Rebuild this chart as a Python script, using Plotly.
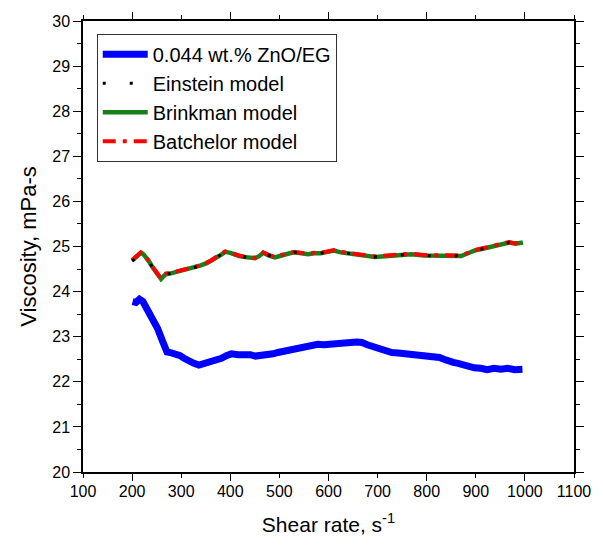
import plotly.graph_objects as go

# ---- data ----
shear_blue = [201, 208, 215, 222, 230, 241, 252, 261, 271, 280, 289, 298, 306, 316, 326, 336, 346,
              356, 369, 382, 392, 402, 416, 431, 441, 451, 464, 477, 487, 497, 510, 523, 537,
              552, 565, 578, 591, 604, 618, 632, 645, 658, 668, 679, 689, 699, 709, 719, 729,
              742, 755, 769, 783, 797, 810, 818, 826, 835, 844, 854, 864, 874, 884, 897, 910,
              923, 937, 951, 965, 980, 995]
visc_blue = [23.78, 23.76, 23.83, 23.78, 23.62, 23.42, 23.18, 22.93, 22.66, 22.64, 22.62, 22.58, 22.52, 22.45,
             22.41, 22.37, 22.40, 22.42, 22.47, 22.52, 22.58, 22.62, 22.60, 22.62, 22.60, 22.57, 22.58,
             22.59, 22.62, 22.65, 22.68, 22.71, 22.74, 22.77, 22.79, 22.83, 22.82, 22.84, 22.85,
             22.87, 22.87, 22.88, 22.87, 22.82, 22.78, 22.75, 22.72, 22.69, 22.65, 22.64, 22.63,
             22.61, 22.59, 22.58, 22.57, 22.56, 22.54, 22.50, 22.45, 22.43, 22.41, 22.37, 22.33,
             22.31, 22.30, 22.27, 22.30, 22.28, 22.30, 22.27, 22.28]

shear_model = [200, 205, 212, 218, 223, 228, 235, 241, 250, 259, 264, 269, 277, 285, 293, 302, 315,
               329, 340, 352, 360, 369, 380, 390, 400, 410, 418, 427, 438, 450, 458, 467, 479,
               491, 501, 511, 521, 531, 545, 558, 571, 584, 598, 611, 625, 638, 652, 665, 680,
               695, 708, 722, 745, 769, 795, 820, 845, 870, 884, 897, 914, 931, 950, 968, 981, 996]
einstein = [24.68, 24.72, 24.80, 24.86, 24.83, 24.77, 24.66, 24.55, 24.42, 24.28, 24.34, 24.39, 24.40, 24.42,
            24.45, 24.48, 24.50, 24.54, 24.58, 24.63, 24.67, 24.74, 24.81, 24.88, 24.86, 24.81, 24.79,
            24.77, 24.75, 24.74, 24.78, 24.86, 24.80, 24.76, 24.79, 24.83, 24.85, 24.87, 24.84,
            24.83, 24.85, 24.85, 24.88, 24.91, 24.87, 24.85, 24.83, 24.81, 24.79, 24.77, 24.78,
            24.79, 24.80, 24.83, 24.80, 24.79, 24.80, 24.79, 24.85, 24.91, 24.95, 25.00, 25.04,
            25.09, 25.06, 25.09]
brinkman = [24.69, 24.73, 24.81, 24.86, 24.83, 24.77, 24.66, 24.55, 24.42, 24.28, 24.34, 24.39, 24.40, 24.42,
            24.45, 24.48, 24.50, 24.54, 24.58, 24.63, 24.67, 24.74, 24.81, 24.88, 24.86, 24.81, 24.79,
            24.77, 24.75, 24.74, 24.78, 24.86, 24.80, 24.76, 24.79, 24.83, 24.85, 24.87, 24.84,
            24.83, 24.85, 24.85, 24.88, 24.91, 24.87, 24.85, 24.83, 24.81, 24.79, 24.77, 24.78,
            24.79, 24.80, 24.83, 24.80, 24.79, 24.80, 24.79, 24.85, 24.91, 24.95, 25.00, 25.04,
            25.09, 25.06, 25.09]
batchelor = [24.70, 24.74, 24.81, 24.87, 24.84, 24.78, 24.67, 24.56, 24.43, 24.29, 24.35, 24.40, 24.41, 24.43,
             24.46, 24.49, 24.51, 24.55, 24.59, 24.64, 24.68, 24.75, 24.82, 24.89, 24.87, 24.82, 24.80,
             24.78, 24.76, 24.75, 24.79, 24.87, 24.81, 24.77, 24.80, 24.84, 24.86, 24.88, 24.85,
             24.84, 24.86, 24.86, 24.89, 24.92, 24.88, 24.86, 24.84, 24.82, 24.80, 24.78, 24.79,
             24.80, 24.81, 24.84, 24.81, 24.80, 24.81, 24.80, 24.86, 24.92, 24.96, 25.01, 25.05,
             25.10, 25.07, 25.10]

x_tick_labels = [100, 200, 300, 400, 500, 600, 700, 800, 900, 1000, 1100]
x_major_ticks = [200, 400, 600, 800, 1000]

FONT = "Liberation Sans, Arial, sans-serif"

fig = go.Figure()
fig.add_trace(go.Scatter(x=shear_blue, y=visc_blue, mode="lines", name="0.044 wt.% ZnO/EG",
                         line=dict(color="#0000ff", width=7), legendrank=1))
fig.add_trace(go.Scatter(x=shear_model, y=brinkman, mode="lines", name="Brinkman model",
                         line=dict(color="#1a7f1a", width=4.5), legendrank=3))
fig.add_trace(go.Scatter(x=shear_model, y=batchelor, mode="lines", name="Batchelor model",
                         line=dict(color="#ff0000", width=4, dash="13px,7px,4px,7px"), legendrank=4))
fig.add_trace(go.Scatter(x=shear_model, y=einstein, mode="lines", name="Einstein model",
                         line=dict(color="#000000", width=3, dash="3px,24px"), legendrank=2))
# invisible trace to carry the overlay axis with the longer major ticks
fig.add_trace(go.Scatter(x=shear_blue, y=visc_blue, xaxis="x2", mode="lines", opacity=0,
                         showlegend=False, hoverinfo="skip"))

fig.update_layout(
    width=603, height=546,
    margin=dict(l=83, r=24, t=21, b=74),
    paper_bgcolor="white", plot_bgcolor="white",
    font=dict(family=FONT, color="black"),
    showlegend=True,
    legend=dict(x=0.028, y=0.972, xanchor="left", yanchor="top",
                bordercolor="#333333", borderwidth=1, bgcolor="white",
                font=dict(size=20, family=FONT), itemwidth=45,
                traceorder="normal"),
    xaxis=dict(range=[100, 1100], tickvals=x_tick_labels, ticktext=[str(v) for v in x_tick_labels],
               ticks="outside", ticklen=4, tickwidth=1, tickcolor="black",
               showline=True, linecolor="black", linewidth=1.5, mirror="ticks",
               showgrid=False, zeroline=False,
               tickfont=dict(size=16, family=FONT),
               title=dict(text="Shear rate, s<sup>-1</sup>", font=dict(size=21, family=FONT), standoff=18)),
    xaxis2=dict(range=[100, 1100], overlaying="x", anchor="y", side="bottom",
                tickvals=x_major_ticks, showticklabels=False,
                ticks="outside", ticklen=8, tickwidth=1, tickcolor="black",
                showline=False, mirror="ticks", showgrid=False, zeroline=False),
    yaxis=dict(range=[20, 30], dtick=1, tick0=20,
               ticks="outside", ticklen=8, tickwidth=1, tickcolor="black",
               minor=dict(dtick=0.5, ticks="outside", ticklen=4, tickcolor="black"),
               showline=True, linecolor="black", linewidth=1.5, mirror="ticks",
               showgrid=False, zeroline=False,
               tickfont=dict(size=16, family=FONT),
               title=dict(text="Viscosity, mPa-s", font=dict(size=22, family=FONT), standoff=10)),
)

fig.write_html("out.html")
